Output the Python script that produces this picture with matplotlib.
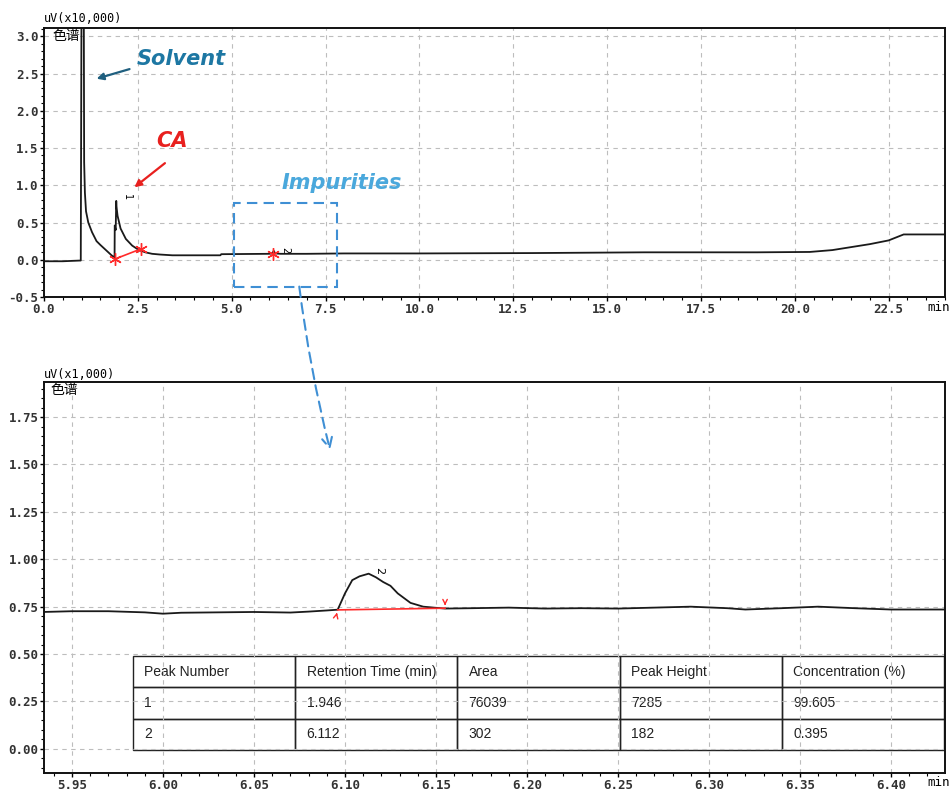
import numpy as np
import matplotlib
matplotlib.use("Agg")
import matplotlib.pyplot as plt
from matplotlib.ticker import MultipleLocator, FormatStrFormatter
from matplotlib.patches import Rectangle, ConnectionPatch

plt.rcParams['axes.unicode_minus'] = False

# Full run, signal in uV x 10,000
full_time = [0.0, 0.5, 0.98, 1.00, 1.01, 1.06, 1.07, 1.09, 1.12, 1.18, 1.28,
             1.40, 1.50, 1.65, 1.80, 1.88, 1.885, 1.91, 1.925, 1.93, 1.96, 2.04,
             2.18, 2.35, 2.53, 2.70, 2.88, 3.10, 3.42, 4.70, 4.72, 6.00, 6.08,
             6.12, 6.16, 6.30, 7.00, 8.00, 10.0, 13.0, 16.0, 19.0, 20.4, 21.0,
             21.5, 22.0, 22.5, 22.9, 24.0]
full_signal = [-0.02, -0.02, -0.01, 3.5, 3.5, 3.5, 1.31, 0.90, 0.65, 0.50, 0.37,
               0.25, 0.20, 0.13, 0.06, 0.03, 0.46, 0.40, 0.79, 0.72, 0.59, 0.42,
               0.28, 0.19, 0.13, 0.10, 0.08, 0.07, 0.06, 0.06, 0.075, 0.08, 0.085,
               0.12, 0.085, 0.08, 0.08, 0.085, 0.085, 0.09, 0.10, 0.10, 0.105, 0.13,
               0.17, 0.21, 0.26, 0.34, 0.34]

# Zoomed window around peak 2, signal in uV x 1,000
zoom_time = [5.934, 5.95, 5.97, 5.99, 6.00, 6.01, 6.03, 6.05, 6.07, 6.08, 6.09,
             6.096, 6.100, 6.104, 6.108, 6.113, 6.117, 6.121, 6.125, 6.129, 6.136,
             6.143, 6.150, 6.155, 6.17, 6.19, 6.21, 6.23, 6.25, 6.27, 6.29, 6.31,
             6.32, 6.34, 6.36, 6.38, 6.40, 6.43]
zoom_signal = [0.722, 0.726, 0.726, 0.720, 0.713, 0.718, 0.720, 0.722, 0.719, 0.724,
               0.730, 0.734, 0.82, 0.89, 0.91, 0.924, 0.905, 0.88, 0.86, 0.82, 0.77,
               0.75, 0.744, 0.740, 0.742, 0.745, 0.740, 0.742, 0.740, 0.745, 0.750,
               0.742, 0.735, 0.742, 0.750, 0.742, 0.735, 0.735]

# integration baselines (start, end)
peak1_base_t = [1.89, 2.58]
peak1_base_y = [0.01, 0.145]
peak2_full_t = [6.10]
peak2_full_y = [0.08]
peak2_base_t = [6.096, 6.155]
peak2_base_y = [0.733, 0.742]

# peak table
table_header = ["Peak Number", "Retention Time (min)", "Area", "Peak Height", "Concentration (%)"]
table_rows = [["1", "1.946", "76039", "7285", "99.605"],
              ["2", "6.112", "302", "182", "0.395"]]

tick_font = dict(family='DejaVu Sans Mono', size=9, color='#333333')
cjk = ['Noto Sans CJK SC', 'DejaVu Sans']
grid_kw = dict(color='#bdbdbd', linestyle=(0, (4, 4)), linewidth=0.8)

fig = plt.figure(figsize=(9.52, 7.91), dpi=100)
ax1 = fig.add_axes([0.0462, 0.6245, 0.9464, 0.340])
ax2 = fig.add_axes([0.0462, 0.0228, 0.9464, 0.4943])


def style_axis(ax):
    for sp in ax.spines.values():
        sp.set_linewidth(1.4)
        sp.set_color('#111111')
    ax.tick_params(which='major', direction='out', length=3, width=1, pad=1)
    ax.tick_params(which='minor', direction='out', length=2, width=0.8)
    for lab in ax.get_xticklabels() + ax.get_yticklabels():
        lab.set_fontfamily(tick_font['family'])
        lab.set_fontsize(tick_font['size'])
        lab.set_color(tick_font['color'])
        lab.set_fontweight('bold')
    ax.grid(True, which='major', **grid_kw)
    ax.set_axisbelow(True)


# --- full chromatogram ---
ax1.plot(full_time, full_signal, color='#1a1a1a', lw=1.3)
ax1.plot(peak1_base_t, peak1_base_y, color='#ff2a2a', lw=1.2)
ax1.plot(peak1_base_t, peak1_base_y, ls='none', marker=(6, 2, 0), ms=9, mec='#ff2a2a', mew=1)
ax1.plot(peak2_full_t, peak2_full_y, ls='none', marker=(6, 2, 0), ms=9, mec='#ff2a2a', mew=1)
ax1.text(2.2, 0.84, "1", rotation=-90, fontsize=7, ha='center', va='center')
ax1.text(6.42, 0.13, "2", rotation=-90, fontsize=7, ha='center', va='center')

ax1.set_xlim(0, 24)
ax1.set_ylim(-0.5, 3.11)
ax1.xaxis.set_major_locator(MultipleLocator(2.5))
ax1.xaxis.set_minor_locator(MultipleLocator(0.5))
ax1.yaxis.set_major_locator(MultipleLocator(0.5))
ax1.yaxis.set_minor_locator(MultipleLocator(0.1))
ax1.xaxis.set_major_formatter(FormatStrFormatter('%.1f'))
ax1.yaxis.set_major_formatter(FormatStrFormatter('%.1f'))
style_axis(ax1)

ax1.text(2.48, 2.69, "Solvent", color='#1d77a3', fontsize=15, fontweight='bold',
         fontstyle='italic', va='center', ha='left')
ax1.annotate("", xy=(1.33, 2.42), xytext=(2.35, 2.57),
             arrowprops=dict(arrowstyle='-|>', color='#1f5f7f', lw=1.6, mutation_scale=10))
ax1.text(3.0, 1.60, "CA", color='#e8201e', fontsize=15, fontweight='bold',
         fontstyle='italic', va='center', ha='left')
ax1.annotate("", xy=(2.35, 0.95), xytext=(3.28, 1.32),
             arrowprops=dict(arrowstyle='-|>', color='#e8201e', lw=1.6, mutation_scale=10))
ax1.text(6.32, 1.03, "Impurities", color='#4aa8dc', fontsize=15, fontweight='bold',
         fontstyle='italic', va='center', ha='left')
ax1.add_patch(Rectangle((5.07, -0.36), 7.81 - 5.07, 0.76 + 0.36, fill=False,
                        edgecolor='#3f8fd4', lw=1.5, ls=(0, (5, 3)), zorder=5))
ax1.text(0.009, 0.995, "色谱", transform=ax1.transAxes, family=cjk, fontsize=10,
         va='top', ha='left')
fig.text(44 / 952, 1 - 18 / 791, "uV(x10,000)", family='DejaVu Sans Mono', fontsize=8.5,
         va='center', ha='left')
fig.text(950 / 952, 1 - 308 / 791, "min", family='DejaVu Sans Mono', fontsize=9,
         ha='right', va='center')

# --- zoomed window ---
ax2.plot(zoom_time, zoom_signal, color='#1a1a1a', lw=1.3)
ax2.plot(peak2_base_t, peak2_base_y, color='#ff2a2a', lw=1.2)
ax2.annotate("", xy=(peak2_base_t[0], peak2_base_y[0]),
             xytext=(peak2_base_t[0] - 0.001, peak2_base_y[0] - 0.04),
             arrowprops=dict(arrowstyle='->', color='#ff2a2a', lw=1, mutation_scale=8))
ax2.annotate("", xy=(peak2_base_t[1], peak2_base_y[1]),
             xytext=(peak2_base_t[1], peak2_base_y[1] + 0.04),
             arrowprops=dict(arrowstyle='->', color='#ff2a2a', lw=1, mutation_scale=8))
ax2.text(6.119, 0.94, "2", rotation=-90, fontsize=8, ha='center', va='center')

ax2.set_xlim(5.9346, 6.4297)
ax2.set_ylim(-0.127, 1.935)
ax2.xaxis.set_major_locator(MultipleLocator(0.05))
ax2.xaxis.set_minor_locator(MultipleLocator(0.01))
ax2.yaxis.set_major_locator(MultipleLocator(0.25))
ax2.yaxis.set_minor_locator(MultipleLocator(0.05))
ax2.xaxis.set_major_formatter(FormatStrFormatter('%.2f'))
ax2.yaxis.set_major_formatter(FormatStrFormatter('%.2f'))
style_axis(ax2)

ax2.text(0.007, 0.998, "色谱", transform=ax2.transAxes, family=cjk, fontsize=10,
         va='top', ha='left')
fig.text(44 / 952, 1 - 374 / 791, "uV(x1,000)", family='DejaVu Sans Mono', fontsize=8.5,
         va='center', ha='left')
fig.text(950 / 952, 1 - 783 / 791, "min", family='DejaVu Sans Mono', fontsize=9,
         ha='right', va='center')

tbl = ax2.table(cellText=table_rows, colLabels=table_header, cellLoc='left',
                colLoc='left', bbox=[0.0988, 0.0588, 0.900, 0.2404])
tbl.auto_set_font_size(False)
for (r, c), cell in tbl.get_celld().items():
    cell.set_facecolor('none')
    cell.set_edgecolor('#222222')
    cell.set_linewidth(1.0)
    cell.PAD = 0.07
    cell.get_text().set_fontsize(10)
    cell.get_text().set_fontfamily(['Liberation Sans Narrow', 'Liberation Sans'])
    cell.get_text().set_color('#222222')

# dashed link from the boxed region down into the zoomed window
con = ConnectionPatch(xyA=(6.8, -0.36), coordsA=ax1.transData,
                      xyB=(6.0918, 1.576), coordsB=ax2.transData,
                      arrowstyle='->', color='#3f8fd4', lw=1.5, ls=(0, (5, 3)),
                      mutation_scale=18, connectionstyle='arc3,rad=0.03')
fig.add_artist(con)

fig.savefig('out.png', dpi=100)
